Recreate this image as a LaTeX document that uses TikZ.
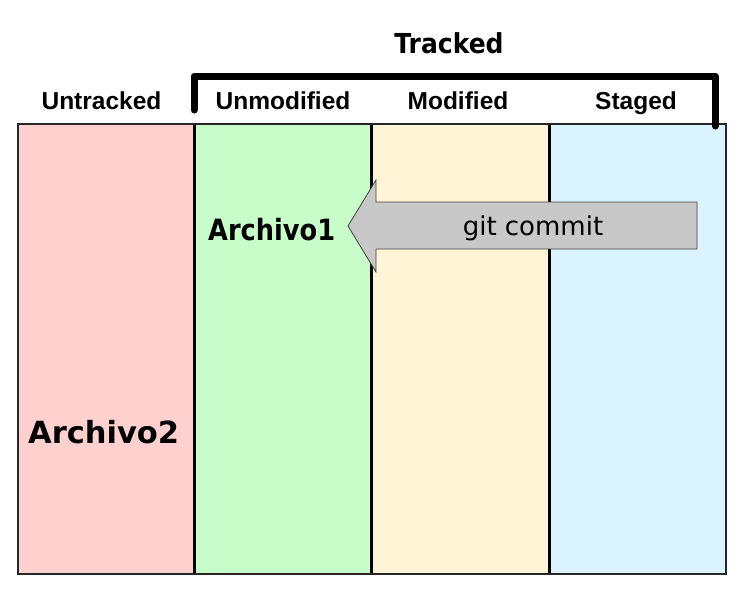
\documentclass[tikz,border=0pt]{standalone}
\usepackage{fontspec}
\newfontfamily\arialf{Liberation Sans}
\newfontfamily\dejaf{DejaVu Sans}
\definecolor{colU}{HTML}{FFD1CE}
\definecolor{colN}{HTML}{C8FCC8}
\definecolor{colM}{HTML}{FFF5D6}
\definecolor{colS}{HTML}{DBF3FE}
\definecolor{arrowgray}{HTML}{C8C8C8}
\begin{document}
\begin{tikzpicture}[x=1pt,y=-1pt,
  hdr/.style={font=\arialf\bfseries\fontsize{24.5}{24.5}\selectfont, anchor=base, inner sep=0pt},
  bigtxt/.style={font=\dejaf\bfseries\fontsize{#1}{#1}\selectfont, anchor=base west, inner sep=0pt},
  divider/.style={line width=3pt, black}]
\useasboundingbox (0,0) rectangle (742,590);
\fill[white] (0,0) rectangle (742,590);
% columns
\fill[colU] (18,124) rectangle (194,574);
\fill[colN] (194,124) rectangle (371,574);
\fill[colM] (371,124) rectangle (549,574);
\fill[colS] (549,124) rectangle (726,574);
\draw[divider] (194,124) -- (194,574);
\draw[divider] (371,124) -- (371,574);
\draw[divider] (549,124) -- (549,574);
\draw[line width=1.3pt, black!85] (18,124) rectangle (726,574);
% bracket
\draw[line width=7pt, line cap=round, line join=round] (194,110) -- (194,76) -- (715,76) -- (715,126);
% headers
\node[font=\dejaf\bfseries\fontsize{27.5}{27.5}\selectfont, anchor=base, inner sep=0pt, xscale=0.91] (tracked) at (449,53) {Tracked};
\node[hdr] (untracked) at (101.5,109) {Untracked};
\node[hdr] (unmod) at (283,109) {Unmodified};
\node[hdr] (mod) at (458,109) {Modified};
\node[hdr] (staged) at (636,109) {Staged};
% arrow
\draw[fill=arrowgray, draw=black!75, line width=0.8pt] (697,202) -- (376,202) -- (376,180) -- (348,226) -- (376,272) -- (376,249) -- (697,249) -- cycle;
\node[font=\dejaf\fontsize{26}{26}\selectfont, anchor=base, inner sep=0pt] (commit) at (533,235) {git commit};
% files
\node[bigtxt=29.3, xscale=0.876] (a1) at (208,240) {Archivo1};
\node[bigtxt=30.5] (a2) at (28,443) {Archivo2};
\end{tikzpicture}
\end{document}
